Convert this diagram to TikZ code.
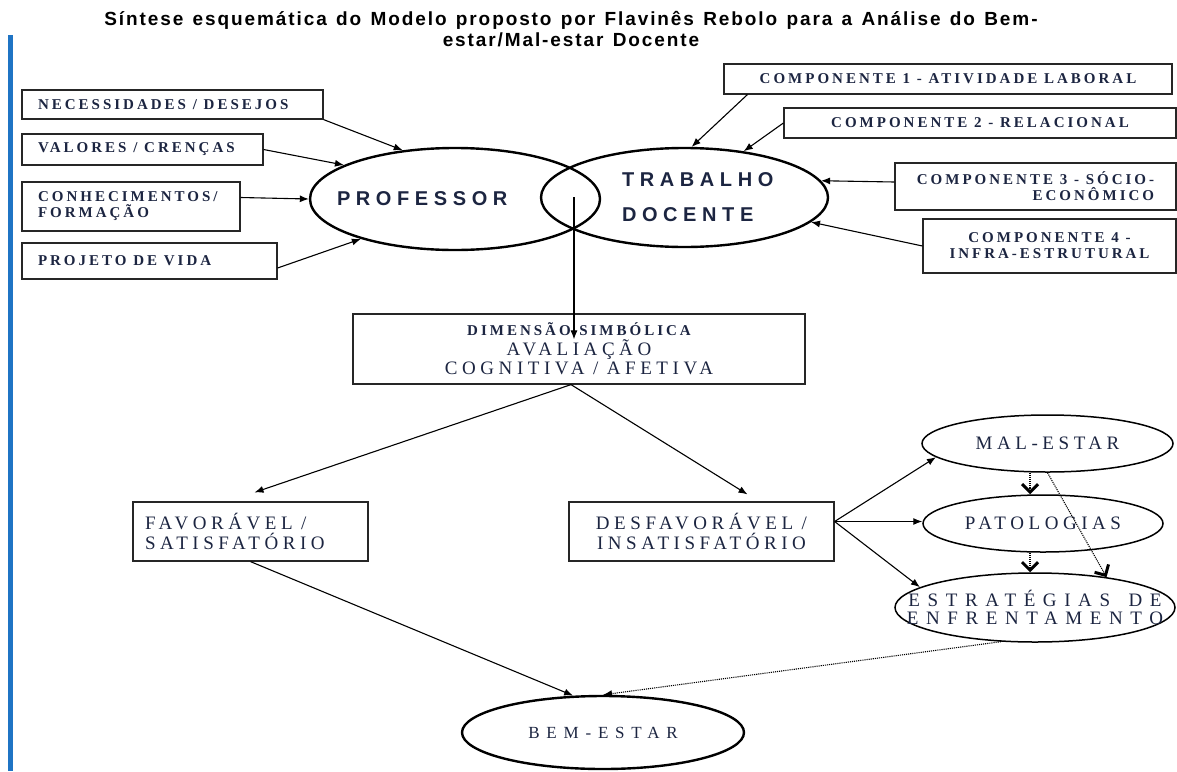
\documentclass[tikz,border=0pt]{standalone}
\usepackage{fontspec}
\setmainfont{Liberation Serif}
\newfontfamily\cxfont[LetterSpace=24,WordSpace=1.5]{Liberation Serif}
\newfontfamily\cxpeq[LetterSpace=20]{Liberation Serif}
\newfontfamily\cxlarg[LetterSpace=40,WordSpace=1.5]{Liberation Serif}
\newfontfamily\elfont[LetterSpace=28]{Liberation Sans}
\newfontfamily\ttlfont[LetterSpace=10,WordSpace=1.3]{Liberation Sans}
\usepackage{tikz}
\usetikzlibrary{arrows.meta,positioning,shapes.geometric,calc}
\definecolor{Ink}{HTML}{1C2541}
\definecolor{Barra}{HTML}{1F74C4}
\newcommand\fpeq{\cxpeq\bfseries\fontsize{15}{16}\selectfont}
\newcommand\fgrd{\cxfont\fontsize{19}{19.5}\selectfont}

\begin{document}
\begin{tikzpicture}[x=1pt,y=-1pt,
    caixa/.style={draw=black!85,line width=1.2pt,fill=white,text=Ink,inner sep=0pt,font=\fpeq,
      execute at begin node={\spaceskip=0.45em plus 0.1em\relax}},
    esq/.style={caixa,align=left,inner xsep=16pt},
    elipse/.style={ellipse,draw,line width=1.5pt,text=Ink,inner sep=0pt,font=\fgrd,align=center},
    grossa/.style={elipse,line width=2.4pt},
    seta/.style={-{Latex[length=9pt,width=7pt]},line width=1.1pt},
    pont/.style={densely dotted,line width=1.1pt},
    vtip/.style={-{Straight Barb[length=8pt,width=16pt,line width=3pt]}}
  ]
    \useasboundingbox (0,0) rectangle (1177,771);
    \fill[Barra] (8,35) rectangle (13,771);
    \node[font={\ttlfont\bfseries\fontsize{19}{21}\selectfont},align=center] (titulo) at (571,29)
      {Síntese esquemática do Modelo proposto por Flavinês Rebolo para a Análise do Bem-\\estar/Mal-estar Docente};
    % entradas do professor
    \node[esq,text width=269pt,minimum height=29pt] (nec) at (172.5,104.5) {NECESSIDADES / DESEJOS};
    \node[esq,text width=209pt,minimum height=31pt] (val) at (142.5,149.5) {VALORES / CRENÇAS};
    \node[esq,text width=186pt,minimum height=49pt] (con) at (131,206.5) {CONHECIMENTOS/\\FORMAÇÃO};
    \node[esq,text width=223pt,minimum height=36pt] (proj) at (149.5,261) {PROJETO DE VIDA};
    % componentes do trabalho
    \node[caixa,minimum width=448pt,minimum height=30pt] (comp1) at (948,79) {COMPONENTE 1 - ATIVIDADE LABORAL};
    \node[caixa,minimum width=392pt,minimum height=30pt] (comp2) at (980,123) {COMPONENTE 2 - RELACIONAL};
    \node[caixa,align=right,minimum width=281pt,minimum height=47pt] (comp3) at (1035.5,186.5) {COMPONENTE 3 - SÓCIO-\\ECONÔMICO};
    \node[caixa,align=center,minimum width=253pt,minimum height=54pt] (comp4) at (1049.5,246) {COMPONENTE 4 -\\INFRA-ESTRUTURAL};
    \node[grossa,minimum width=290pt,minimum height=102pt,text width=236pt,inner xsep=-20pt,align=left,
      font={\elfont\bfseries\fontsize{20}{23}\selectfont}] (prof) at (455,199) {PROFESSOR};
    \node[grossa,minimum width=287pt,minimum height=99pt,text width=125pt,align=left,
      font={\elfont\bfseries\fontsize{20}{23}\selectfont}] (trab) at (684.5,197.5) {TRABALHO\\[12pt]DOCENTE};
    \node[caixa,align=center,font=\fgrd,minimum width=452pt,minimum height=70pt] (dim) at (579,349)
      {{\fpeq DIMENSÃO SIMBÓLICA}\\AVALIAÇÃO\\COGNITIVA / AFETIVA};
    \node[caixa,font=\fgrd,align=left,inner xsep=12pt,text width=211pt,minimum height=59pt] (fav) at (250.5,531.5) {FAVORÁVEL /\\SATISFATÓRIO};
    \node[caixa,font=\fgrd,align=center,minimum width=265pt,minimum height=59pt] (desf) at (701.5,531.5) {DESFAVORÁVEL /\\INSATISFATÓRIO};
    \node[elipse,minimum width=251pt,minimum height=57pt] (mal) at (1047.5,443.5) {MAL-ESTAR};
    \node[elipse,minimum width=240pt,minimum height=57pt] (pat) at (1043,523.5) {PATOLOGIAS};
    \node[elipse,minimum width=280pt,minimum height=69pt,inner xsep=-40pt,
      font={\cxlarg\fontsize{19}{18.5}\selectfont}] (est) at (1035,607.5) {ESTRATÉGIAS DE\\ENFRENTAMENTO};
    \node[grossa,minimum width=282pt,minimum height=73pt,font={\cxlarg\fontsize{17}{18}\selectfont}] (bem) at (603,732.5) {BEM-ESTAR};

    \foreach \a/\b in {nec.south east/prof.137,val.east/prof.163}
      \draw[seta] (\a) -- (\b);
    \draw[seta] ([yshift=9pt]con.east) -- (prof.west);
    \draw[seta] ([yshift=-7pt]proj.east) -- (prof.203);
    \draw[seta] ([xshift=24pt]comp1.south west) -- (trab.82);
    \draw[seta] (comp2.west) -- (trab.38);
    \draw[seta] ([yshift=4.5pt]comp3.west) -- (trab.7);
    \draw[seta] (comp4.west) -- (trab.-11);

    \coordinate (lente) at (574,197);
    \draw[seta] (lente) -- ($(lente |- dim.north)+(0,26)$);
    \coordinate (dimS) at ($(dim.south)+(-8,0)$);
    \draw[seta] (dimS) -- ($(fav.north)+(4,-9)$);
    \draw[seta] (dimS) -- ($(desf.north)+(46,-7)$);

    \coordinate (desfR) at ($(desf.east)+(0,-10)$);
    \foreach \alvo in {mal.187,desfR -| pat.west,est.170}
      \draw[seta] (desfR) -- (\alvo);
    \draw[pont,vtip] ($(mal.south)+(-17.5,0)$) -- ($(pat.north)+(-13,0)$);
    \draw[pont,vtip] ($(pat.south)+(-13,0)$) -- ($(est.north)+(-5,0)$);
    \draw[pont,vtip] (mal.south) -- (est.23);
    \draw[pont,-{Latex[length=9pt,width=7pt]}] (est.225) -- (bem.north);
    \draw[seta] (fav.south) -- (bem.129);
\end{tikzpicture}
\end{document}
